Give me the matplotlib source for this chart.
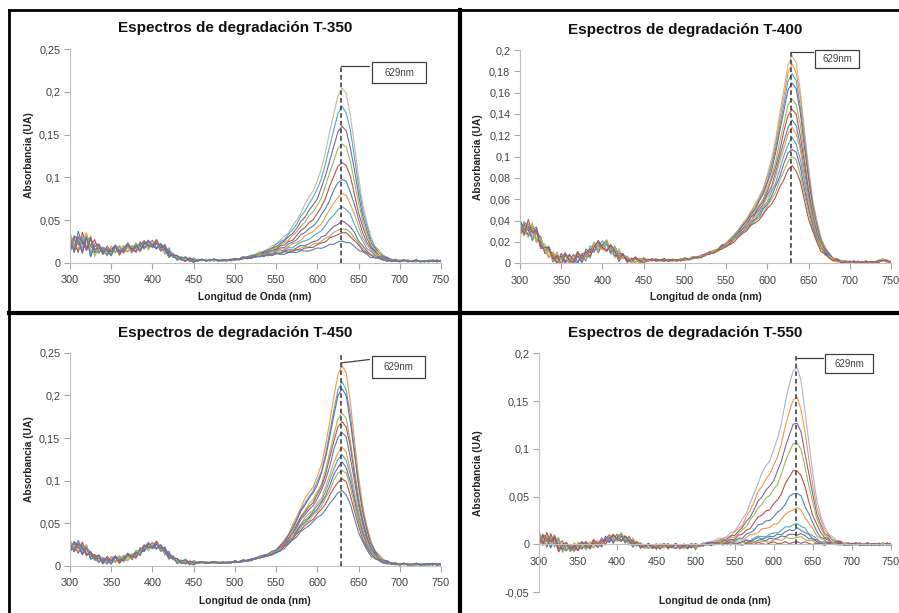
import numpy as np
import matplotlib
matplotlib.use("Agg")
import matplotlib.pyplot as plt
from matplotlib.ticker import FuncFormatter, MultipleLocator
from matplotlib.patches import Rectangle
from matplotlib.lines import Line2D

plt.rcParams['font.family'] = ['Liberation Sans', 'DejaVu Sans']

W, H = 899, 613

# Wavelength grid (nm)
wavelength = np.arange(300, 755, 5)

# Small measurement ripple pattern (dimensionless)
ripple = [0.3, -0.8, 0.9, -0.2, 0.6, -1.0, 0.1, 0.8, -0.5, 0.4,
          -0.9, 0.7, -0.1, -0.6, 1.0, -0.3, 0.5, -0.7, 0.2, 0.9,
          -0.4, -0.8, 0.6, 0.0, -0.5, 0.8, -1.0, 0.4, 0.7, -0.2,
          -0.9, 0.3, 0.6, -0.6, 0.1, 1.0, -0.7, -0.1, 0.5, -0.4,
          0.8, -0.8, 0.2, 0.4, -1.0, 0.9, -0.3, 0.0, 0.7, -0.6,
          0.3, -0.2, -0.9, 0.6, 0.5, -0.5, 0.9, -0.1, -0.7, 0.2,
          1.0, -0.4, -0.3, 0.8, -0.9, 0.1, 0.4, -0.6, 0.7, -0.2,
          -0.8, 0.5, 0.3, -1.0, 0.6, 0.0, -0.4, 0.9, -0.7, 0.2,
          -0.1, 0.8, -0.5, -0.3, 0.6, -0.9, 0.4, 0.1, -0.6, 0.7,
          -0.2]

# ---------------- T-350 ----------------
peaks_350 = [0.025, 0.035, 0.040, 0.048, 0.065, 0.081, 0.098, 0.118, 0.140, 0.160, 0.183, 0.205]
colors_350 = ['#4F81BD', '#C0504D', '#9BBB59', '#8064A2', '#4BACC6', '#F79646',
              '#4F81BD', '#C0504D', '#9BBB59', '#8064A2', '#4BACC6', '#C9B79C']
band_350 = ([0.0] * 40 +
            [0.0, 0.003, 0.006, 0.01, 0.014, 0.019, 0.025, 0.033, 0.043, 0.055,
             0.07, 0.088, 0.11, 0.137, 0.17, 0.21, 0.255, 0.30, 0.345, 0.39,
             0.44, 0.52, 0.62, 0.73, 0.85, 0.95, 1.0, 0.96, 0.84, 0.66,
             0.47, 0.32, 0.21, 0.13, 0.08, 0.05, 0.03, 0.018, 0.011, 0.006,
             0.003, 0.001] +
            [0.0] * 9)
base_350 = ([0.022, 0.024, 0.025, 0.024, 0.022, 0.02, 0.018, 0.016, 0.015, 0.014,
             0.014, 0.015, 0.015, 0.016, 0.017, 0.017, 0.018, 0.019, 0.02, 0.021,
             0.022, 0.021, 0.019, 0.016, 0.012, 0.008, 0.006, 0.005, 0.004, 0.004] +
            [0.003] * 10 +
            [0.004, 0.004, 0.005, 0.005, 0.006, 0.006, 0.007, 0.007, 0.008, 0.008] +
            [0.009] * 20 +
            [0.008, 0.007, 0.006, 0.005, 0.004, 0.004, 0.003, 0.002, 0.002, 0.002] +
            [0.002] * 11)
noise_350 = [0.013] * 7 + [0.006] * 18 + [0.003] * 6 + [0.0012] * 60

# ---------------- T-400 ----------------
peaks_400 = [0.091, 0.100, 0.108, 0.117, 0.127, 0.134, 0.145, 0.155, 0.170, 0.178, 0.187, 0.195]
colors_400 = ['#C0504D', '#9BBB59', '#8064A2', '#4BACC6', '#F79646', '#4F81BD',
              '#C0504D', '#9BBB59', '#8064A2', '#4BACC6', '#F79646', '#C9B79C']
band_400 = ([0.0] * 40 +
            [0.0, 0.0, 0.002, 0.004, 0.006, 0.009, 0.012, 0.016, 0.021, 0.027,
             0.035, 0.045, 0.057, 0.072, 0.09, 0.11, 0.135, 0.165, 0.20, 0.245,
             0.31, 0.40, 0.52, 0.66, 0.81, 0.94, 1.0, 0.96, 0.83, 0.64,
             0.45, 0.30, 0.19, 0.115, 0.068, 0.04, 0.023, 0.013, 0.007, 0.003,
             0.001, 0.0] +
            [0.0] * 9)
base_400 = ([0.032, 0.034, 0.033, 0.03, 0.025, 0.02, 0.014, 0.01, 0.007, 0.005,
             0.004, 0.004, 0.004, 0.004, 0.005, 0.006, 0.008, 0.011, 0.014, 0.016,
             0.017, 0.016, 0.014, 0.011, 0.008, 0.006, 0.004, 0.003, 0.003, 0.003] +
            [0.003] * 10 +
            [0.004, 0.004, 0.005, 0.005, 0.006, 0.007, 0.008, 0.009, 0.010, 0.012,
             0.013, 0.015, 0.017, 0.019, 0.021, 0.023, 0.025, 0.026, 0.027, 0.028,
             0.028, 0.027, 0.025, 0.023, 0.021, 0.020, 0.019, 0.018, 0.016, 0.013,
             0.010, 0.008, 0.006, 0.004, 0.003, 0.002, 0.001, 0.001, 0.001, 0.001,
             0.001, 0.001, 0.001, 0.001, 0.001, 0.001, 0.001, 0.002, 0.003, 0.002, 0.001])
noise_400 = [0.009] * 5 + [0.006] * 20 + [0.003] * 6 + [0.0012] * 60

# ---------------- T-450 ----------------
peaks_450 = [0.088, 0.102, 0.113, 0.121, 0.130, 0.139, 0.157, 0.170, 0.180, 0.208, 0.216, 0.235]
colors_450 = ['#4F81BD', '#C0504D', '#9BBB59', '#8064A2', '#4BACC6', '#F79646',
              '#4F81BD', '#C0504D', '#9BBB59', '#8064A2', '#4BACC6', '#F79646']
band_450 = ([0.0] * 40 +
            [0.0, 0.0, 0.0, 0.002, 0.004, 0.006, 0.008, 0.011, 0.015, 0.021,
             0.03, 0.042, 0.06, 0.085, 0.12, 0.16, 0.20, 0.235, 0.26, 0.285,
             0.33, 0.40, 0.51, 0.65, 0.81, 0.94, 1.0, 0.96, 0.82, 0.63,
             0.44, 0.30, 0.19, 0.115, 0.07, 0.042, 0.025, 0.015, 0.008, 0.004,
             0.002, 0.001] +
            [0.0] * 9)
base_450 = ([0.022, 0.024, 0.023, 0.021, 0.017, 0.013, 0.01, 0.008, 0.007, 0.007,
             0.007, 0.007, 0.008, 0.009, 0.01, 0.012, 0.014, 0.017, 0.02, 0.023,
             0.024, 0.024, 0.022, 0.018, 0.013, 0.009, 0.006, 0.005, 0.005, 0.004] +
            [0.004] * 10 +
            [0.005, 0.005, 0.006, 0.006, 0.007, 0.008, 0.009, 0.01, 0.011, 0.012,
             0.013, 0.015, 0.017, 0.019, 0.021, 0.023, 0.025, 0.027, 0.029, 0.031,
             0.032, 0.031, 0.029, 0.025, 0.021, 0.017, 0.015, 0.014, 0.012, 0.010,
             0.008, 0.006, 0.005, 0.004, 0.003, 0.003, 0.002, 0.002, 0.002, 0.002] +
            [0.002] * 11)
noise_450 = [0.008] * 5 + [0.005] * 20 + [0.003] * 6 + [0.0012] * 60

# ---------------- T-550 ----------------
peaks_550 = [0.002, 0.007, 0.011, 0.016, 0.021, 0.038, 0.054, 0.078, 0.107, 0.127, 0.154, 0.185]
colors_550 = ['#C0504D', '#9BBB59', '#8064A2', '#4F81BD', '#4BACC6', '#F79646',
              '#4F81BD', '#C0504D', '#9BBB59', '#8064A2', '#F79646', '#AEB0D8']
band_550 = ([0.0] * 40 +
            [0.0, 0.003, 0.006, 0.01, 0.015, 0.02, 0.027, 0.035, 0.045, 0.06,
             0.08, 0.105, 0.14, 0.18, 0.23, 0.29, 0.35, 0.40, 0.44, 0.48,
             0.53, 0.60, 0.69, 0.80, 0.91, 0.98, 1.0, 0.92, 0.76, 0.58,
             0.40, 0.26, 0.16, 0.10, 0.062, 0.038, 0.024, 0.014, 0.008, 0.004,
             0.002, 0.001] +
            [0.0] * 9)
base_550 = ([0.005, 0.006, 0.005, 0.004, 0.002, 0.0, -0.002, -0.003, -0.003, -0.003,
             -0.002, -0.002, -0.001, -0.001, 0.0, 0.001, 0.002, 0.004, 0.005, 0.006,
             0.007, 0.007, 0.006, 0.004, 0.002, 0.0, -0.001, -0.002, -0.002, -0.002] +
            [-0.002] * 10 +
            [-0.002, -0.001, -0.001, 0.0, 0.0, 0.0, 0.0, 0.0, 0.0, 0.0] +
            [0.0] * 41)
noise_550 = [0.008] * 7 + [0.005] * 18 + [0.003] * 16 + [0.0015] * 50

x_ticks = [300, 350, 400, 450, 500, 550, 600, 650, 700, 750]
peak_nm = 629
peak_label = "629nm"

fig = plt.figure(figsize=(W / 100, H / 100), dpi=100)


def fx(px):
    return px / W


def fy(py):
    return 1 - py / H


def comma(v, _pos):
    return ('%g' % round(v, 4)).replace('.', ',')


def panel(rect_px, peaks, colors, band, base, noise, ymin, ymax, ystep,
          title, title_xy, ylab_xy, xlab, xlab_xy, dash_top, link_y, box):
    x0, y0, x1, y1 = rect_px
    ax = fig.add_axes([fx(x0), fy(y1), (x1 - x0) / W, (y1 - y0) / H])
    band = np.array(band)
    base = np.array(base)
    noise = np.array(noise)
    rp = np.array(ripple)
    i630 = int(np.where(wavelength == 630)[0][0])
    n = len(peaks)
    for i in range(n - 1, -1, -1):
        amp = peaks[i] - base[i630]
        y = base + amp * band + noise * np.roll(rp, 7 * i)
        ax.plot(wavelength, y, color=colors[i], lw=0.8)
    ax.set_xlim(300, 750)
    ax.set_ylim(ymin, ymax)
    ax.set_xticks(x_ticks)
    ax.yaxis.set_major_locator(MultipleLocator(ystep))
    ax.yaxis.set_major_formatter(FuncFormatter(comma))
    for s in ['top', 'right']:
        ax.spines[s].set_visible(False)
    for s in ['left', 'bottom']:
        ax.spines[s].set_color('#BFBFBF')
        ax.spines[s].set_linewidth(0.8)
    if ymin < 0:
        ax.spines['bottom'].set_position(('data', 0))
    ax.tick_params(axis='both', colors='#A6A6A6', labelcolor='#404040',
                   labelsize=7.8, length=4, width=0.8)
    ax.tick_params(axis='x', pad=5)
    ax.tick_params(axis='y', pad=3)
    # reference wavelength marker
    ax.plot([peak_nm, peak_nm], [0, dash_top], color='#333333', lw=1.1,
            ls=(0, (3, 2)), zorder=5)
    bx0, bx1, by0, by1 = box
    ax.plot([peak_nm, bx0 - 3], [link_y[0], link_y[1]], color='#404040', lw=0.9,
            clip_on=False, zorder=5)
    ax.add_patch(Rectangle((bx0, by0), bx1 - bx0, by1 - by0, facecolor='white',
                           edgecolor='#404040', lw=0.9, clip_on=False, zorder=6))
    ax.text((bx0 + bx1) / 2, (by0 + by1) / 2, peak_label, ha='center', va='center',
            fontsize=7, color='#404040', zorder=7)
    fig.text(fx(title_xy[0]), fy(title_xy[1]), title, ha='center', va='center',
             fontsize=11, fontweight='bold', color='#111111')
    fig.text(fx(ylab_xy[0]), fy(ylab_xy[1]), 'Absorbancia (UA)', ha='center',
             va='center', rotation=90, fontsize=7.3, fontweight='bold', color='#222222')
    fig.text(fx(xlab_xy[0]), fy(xlab_xy[1]), xlab, ha='center', va='center',
             fontsize=7.4, fontweight='bold', color='#222222')
    return ax


panel((70, 49.3, 441, 262.7), peaks_350, colors_350, band_350, base_350, noise_350,
      0, 0.25, 0.05, 'Espectros de degradación T-350', (235, 28), (29, 155),
      'Longitud de Onda (nm)', (255, 297), 0.231, (0.2305, 0.2305),
      (666, 732, 0.2105, 0.235))

panel((520, 50, 891, 263.3), peaks_400, colors_400, band_400, base_400, noise_400,
      0, 0.2, 0.02, 'Espectros de degradación T-400', (685, 30), (478, 157),
      'Longitud de onda (nm)', (706, 297), 0.198, (0.198, 0.198),
      (658, 711, 0.183, 0.2))

panel((70, 352.7, 441, 566), peaks_450, colors_450, band_450, base_450, noise_450,
      0, 0.25, 0.05, 'Espectros de degradación T-450', (235, 333), (29, 459),
      'Longitud de onda (nm)', (255, 601), 0.25, (0.238, 0.242),
      (666, 731, 0.22, 0.246))

panel((539, 353.3, 891, 592), peaks_550, colors_550, band_550, base_550, noise_550,
      -0.05, 0.2, 0.05, 'Espectros de degradación T-550', (685, 333), (478, 473),
      'Longitud de onda (nm)', (715, 601), 0.206, (0.195, 0.195),
      (666, 727, 0.179, 0.199))

# panel frames
frame = dict(color='black', transform=fig.transFigure)
fig.add_artist(Line2D([fx(9), fx(899)], [fy(10), fy(10)], lw=2, **frame))
fig.add_artist(Line2D([fx(9), fx(9)], [fy(10), fy(613)], lw=2, **frame))
fig.add_artist(Line2D([fx(460), fx(460)], [fy(10), fy(613)], lw=3, **frame))
fig.add_artist(Line2D([fx(9), fx(899)], [fy(313), fy(313)], lw=3, **frame))

fig.savefig('out.png', dpi=100)
